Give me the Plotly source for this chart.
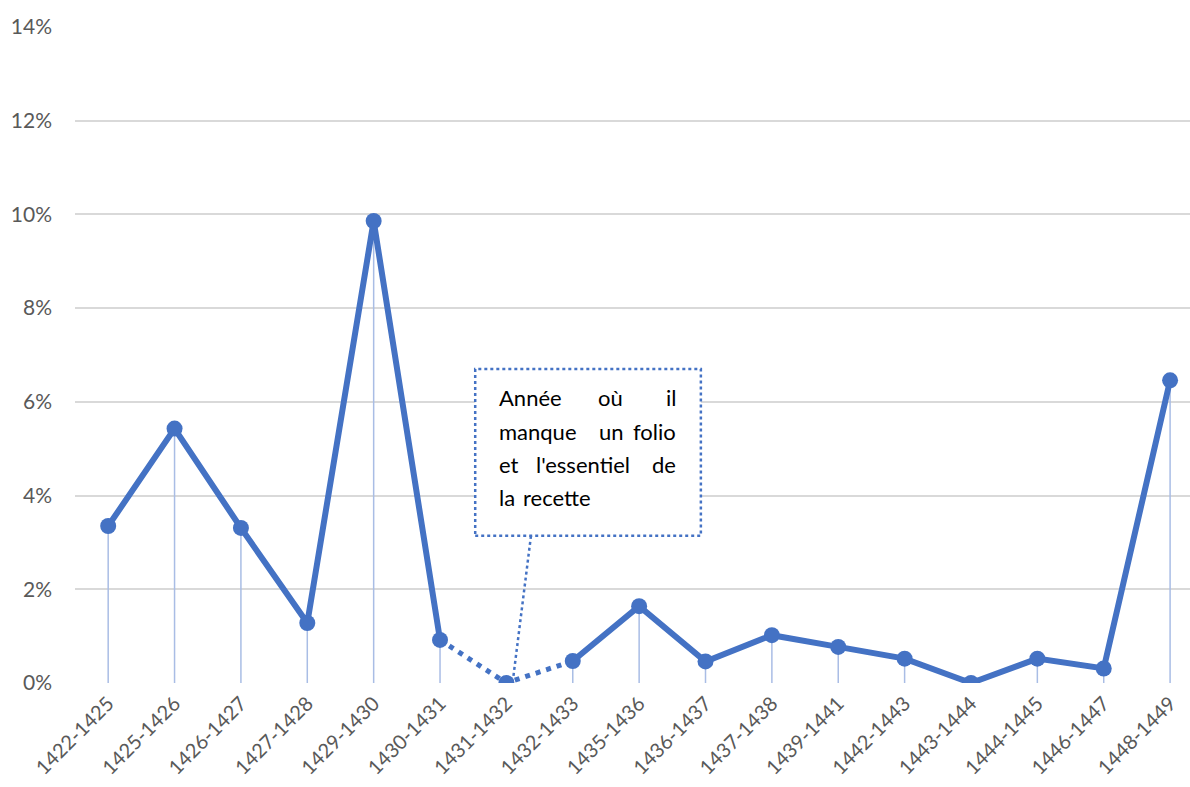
import plotly.graph_objects as go

categories = ["1422-1425", "1425-1426", "1426-1427", "1427-1428", "1429-1430",
              "1430-1431", "1431-1432", "1432-1433", "1435-1436", "1436-1437",
              "1437-1438", "1439-1441", "1442-1443", "1443-1444", "1444-1445",
              "1446-1447", "1448-1449"]
values = [3.35, 5.43, 3.31, 1.28, 9.86, 0.92, 0.0, 0.47, 1.64, 0.46,
          1.02, 0.77, 0.52, 0.0, 0.52, 0.31, 6.46]
missing_index = 6
y_ticks = [0, 2, 4, 6, 8, 10, 12, 14]
y_tick_labels = ["0%", "2%", "4%", "6%", "8%", "10%", "12%", "14%"]
callout_lines = [["Année", "où", "il"], ["manque", "un", "folio"],
                 ["et", "l'essentiel", "de"], ["la", "recette"]]

BLUE = "#4472C4"
FONT = "Lato"
n = len(categories)
xi = list(range(n))

fig = go.Figure()

# drop lines
dx, dy = [], []
for i, v in zip(xi, values):
    dx += [i, i, None]
    dy += [0, v, None]
fig.add_trace(go.Scatter(x=dx, y=dy, mode="lines",
                         line=dict(color="#A9BDE5", width=1.5),
                         hoverinfo="skip", showlegend=False))

# dotted segment around the missing year
seg = slice(missing_index - 1, missing_index + 2)
fig.add_trace(go.Scatter(x=xi[seg], y=values[seg], mode="lines",
                         line=dict(color=BLUE, width=5, dash="5px,6px"),
                         hoverinfo="skip", showlegend=False))

# solid line, broken over the missing year
solid_x, solid_y = [], []
for i, v in zip(xi, values):
    if i == missing_index:
        solid_x.append(None); solid_y.append(None)
    else:
        solid_x.append(i); solid_y.append(v)
fig.add_trace(go.Scatter(x=solid_x, y=solid_y, mode="lines",
                         line=dict(color=BLUE, width=6),
                         hoverinfo="skip", showlegend=False, connectgaps=False))

fig.add_trace(go.Scatter(x=xi, y=values, mode="markers",
                         marker=dict(color=BLUE, size=16),
                         hoverinfo="skip", showlegend=False))

# callout box and pointer
bx0, bx1, by0, by1 = 5.53, 8.93, 3.14, 6.70
fig.add_shape(type="rect", x0=bx0, x1=bx1, y0=by0, y1=by1, xref="x", yref="y",
              line=dict(color=BLUE, width=2.5, dash="dot"), fillcolor="white", layer="above")
fig.add_shape(type="line", x0=6.37, y0=by0, x1=6.10, y1=0.08, xref="x", yref="y",
              line=dict(color=BLUE, width=2.5, dash="dot"), layer="above")

def px2x(p):
    return (p - 108) / 66.4
def py2y(p):
    return (683 - p) / 46.85

line_y_px = [398, 432, 465, 498]
word_pos = [
    [("left", 497), ("center", 611), ("right", 678)],
    [("left", 497), ("center", 612), ("right", 678)],
    [("left", 497), ("center", 583), ("right", 678)],
    [("left", 497), ("left", 521)],
]
for words, pos, ly in zip(callout_lines, word_pos, line_y_px):
    for w, (anc, p) in zip(words, pos):
        fig.add_annotation(x=px2x(p), y=py2y(ly), xref="x", yref="y", text=w,
                           showarrow=False, xanchor=anc, yanchor="middle",
                           font=dict(family=FONT, size=22, color="black"))

fig.update_layout(
    width=1190, height=787,
    margin=dict(l=75, r=0, t=27, b=104),
    plot_bgcolor="white", paper_bgcolor="white",
    font=dict(family=FONT, size=21, color="#595959"),
    showlegend=False,
    xaxis=dict(range=[-0.5, 16.3], tickmode="array", tickvals=xi,
               ticktext=categories, tickangle=-45, showgrid=False,
               zeroline=False, showline=False, ticks="", automargin=False,
               ticklabelstandoff=4,
               tickfont=dict(family=FONT, size=20, color="#595959")),
    yaxis=dict(range=[0, 14], tickmode="array", tickvals=y_ticks,
               ticktext=y_tick_labels, showgrid=True, gridcolor="#D9D9D9",
               gridwidth=1.5, zeroline=False, showline=False, ticks="",
               automargin=False, ticklabelstandoff=22,
               tickfont=dict(family=FONT, size=21, color="#595959")),
)

fig.write_html("out.html", config={"displayModeBar": False},
               post_script="document.body.style.margin='0px';")
